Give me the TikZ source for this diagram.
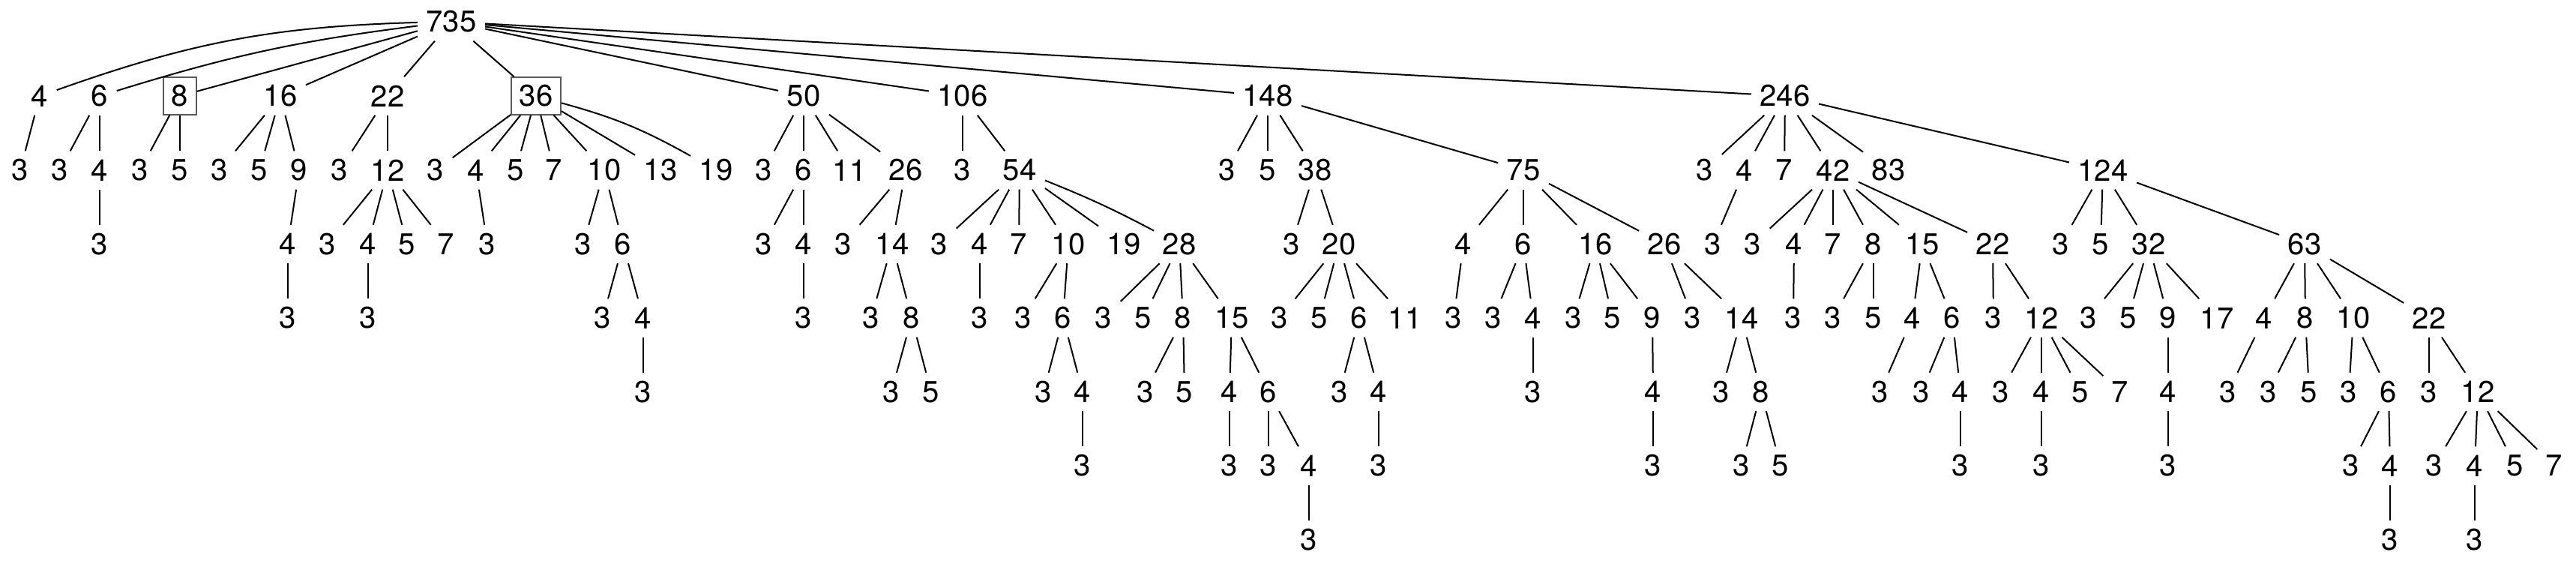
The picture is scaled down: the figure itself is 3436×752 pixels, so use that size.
\documentclass[tikz,border=0pt]{standalone}
\usepackage{fontspec}
\setmainfont{TeX Gyre Heros}
\begin{document}
\begin{tikzpicture}[x=0.01cm,y=-0.01cm,
  n/.style={rectangle,inner xsep=3.1pt,inner ysep=0pt,minimum height=0.5cm,font=\fontsize{11.4}{13}\selectfont},
  boxed/.style={n,draw=black!65,line width=0.4pt},
  e/.style={line width=0.57pt,black}]
\useasboundingbox (0,0) rectangle (3436,752);
% level 0
\node[n] (r) at (602,29) {735};
% level 1
\node[n] (a) at (53,128) {4};
\node[n] (b) at (133,128) {6};
\node[boxed] (c) at (240,128) {8};
\node[n] (d) at (374,128) {16};
\node[n] (e) at (517,128) {22};
\node[boxed] (f) at (715,128) {36};
\node[n] (g) at (1072,128) {50};
\node[n] (h) at (1284,128) {106};
\node[n] (i) at (1691,128) {148};
\node[n] (j) at (2381,128) {246};
% subtree 4
\node[n] (a1) at (27,227) {3};
% subtree 6
\node[n] (b1) at (80,227) {3};
\node[n] (b2) at (133,227) {4};
\node[n] (b21) at (133,325.5) {3};
% subtree 8
\node[n] (c1) at (187,227) {3};
\node[n] (c2) at (240,227) {5};
% subtree 16
\node[n] (d1) at (293,227) {3};
\node[n] (d2) at (346,227) {5};
\node[n] (d3) at (399,227) {9};
\node[n] (d31) at (384,325.5) {4};
\node[n] (d311) at (384,424) {3};
% subtree 22
\node[n] (e1) at (453,227) {3};
\node[n] (e2) at (517,227) {12};
\node[n] (e21) at (437,325.5) {3};
\node[n] (e22) at (491,325.5) {4};
\node[n] (e23) at (543,325.5) {5};
\node[n] (e24) at (595,325.5) {7};
\node[n] (e221) at (491,424) {3};
% subtree 36
\node[n] (f1) at (581,227) {3};
\node[n] (f2) at (635,227) {4};
\node[n] (f3) at (688,227) {5};
\node[n] (f4) at (739,227) {7};
\node[n] (f5) at (806,227) {10};
\node[n] (f6) at (881,227) {13};
\node[n] (f7) at (955,227) {19};
\node[n] (f21) at (650,325.5) {3};
\node[n] (f51) at (778,325.5) {3};
\node[n] (f52) at (831,325.5) {6};
\node[n] (f521) at (804,424) {3};
\node[n] (f522) at (858,424) {4};
\node[n] (f5221) at (858,522.5) {3};
% subtree 50
\node[n] (g1) at (1019,227) {3};
\node[n] (g2) at (1072,227) {6};
\node[n] (g3) at (1133,227) {11};
\node[n] (g4) at (1208,227) {26};
\node[n] (g21) at (1019,325.5) {3};
\node[n] (g22) at (1072,325.5) {4};
\node[n] (g221) at (1072,424) {3};
\node[n] (g41) at (1125,325.5) {3};
\node[n] (g42) at (1190,325.5) {14};
\node[n] (g421) at (1162,424) {3};
\node[n] (g422) at (1216,424) {8};
\node[n] (g4221) at (1189,522.5) {3};
\node[n] (g4222) at (1242,522.5) {5};
% subtree 106
\node[n] (h1) at (1284,227) {3};
\node[n] (h2) at (1360,227) {54};
\node[n] (h21) at (1253,325.5) {3};
\node[n] (h22) at (1307,325.5) {4};
\node[n] (h23) at (1359,325.5) {7};
\node[n] (h24) at (1425,325.5) {10};
\node[n] (h25) at (1499,325.5) {19};
\node[n] (h26) at (1573,325.5) {28};
\node[n] (h221) at (1307,424) {3};
\node[n] (h241) at (1365,424) {3};
\node[n] (h242) at (1418,424) {6};
\node[n] (h2421) at (1392,522.5) {3};
\node[n] (h2422) at (1444,522.5) {4};
\node[n] (h24221) at (1444,621) {3};
\node[n] (h261) at (1472,424) {3};
\node[n] (h262) at (1525,424) {5};
\node[n] (h263) at (1578,424) {8};
\node[n] (h264) at (1643,424) {15};
\node[n] (h2631) at (1528,522.5) {3};
\node[n] (h2632) at (1580,522.5) {5};
\node[n] (h2641) at (1640,522.5) {4};
\node[n] (h2642) at (1692,522.5) {6};
\node[n] (h26411) at (1640,621) {3};
\node[n] (h26421) at (1692,621) {3};
\node[n] (h26422) at (1746,621) {4};
\node[n] (h264221) at (1746,719.5) {3};
% subtree 148
\node[n] (i1) at (1637,227) {3};
\node[n] (i2) at (1691,227) {5};
\node[n] (i3) at (1754,227) {38};
\node[n] (i4) at (2032,227) {75};
\node[n] (i31) at (1723,325.5) {3};
\node[n] (i32) at (1786,325.5) {20};
\node[n] (i321) at (1707,424) {3};
\node[n] (i322) at (1760,424) {5};
\node[n] (i323) at (1813,424) {6};
\node[n] (i324) at (1874,424) {11};
\node[n] (i3231) at (1787,522.5) {3};
\node[n] (i3232) at (1839,522.5) {4};
\node[n] (i32321) at (1839,621) {3};
\node[n] (i41) at (1952,325.5) {4};
\node[n] (i42) at (2032,325.5) {6};
\node[n] (i43) at (2128,325.5) {16};
\node[n] (i44) at (2220,325.5) {26};
\node[n] (i411) at (1939,424) {3};
\node[n] (i421) at (1992,424) {3};
\node[n] (i422) at (2045,424) {4};
\node[n] (i4221) at (2045,522.5) {3};
\node[n] (i431) at (2099,424) {3};
\node[n] (i432) at (2151,424) {5};
\node[n] (i433) at (2204,424) {9};
\node[n] (i4331) at (2205,522.5) {4};
\node[n] (i43311) at (2205,621) {3};
\node[n] (i441) at (2258,424) {3};
\node[n] (i442) at (2323,424) {14};
\node[n] (i4421) at (2296,522.5) {3};
\node[n] (i4422) at (2349,522.5) {8};
\node[n] (i44221) at (2323,621) {3};
\node[n] (i44222) at (2375,621) {5};
% subtree 246
\node[n] (j1) at (2274,227) {3};
\node[n] (j2) at (2327,227) {4};
\node[n] (j3) at (2380,227) {7};
\node[n] (j4) at (2445,227) {42};
\node[n] (j5) at (2519,227) {83};
\node[n] (j6) at (2805,227) {124};
\node[n] (j21) at (2285,325.5) {3};
\node[n] (j41) at (2338,325.5) {3};
\node[n] (j42) at (2393,325.5) {4};
\node[n] (j43) at (2445,325.5) {7};
\node[n] (j44) at (2499,325.5) {8};
\node[n] (j45) at (2564,325.5) {15};
\node[n] (j46) at (2658,325.5) {22};
\node[n] (j421) at (2392,424) {3};
\node[n] (j441) at (2445,424) {3};
\node[n] (j442) at (2499,424) {5};
\node[n] (j451) at (2551,424) {4};
\node[n] (j452) at (2604,424) {6};
\node[n] (j4511) at (2508,522.5) {3};
\node[n] (j4521) at (2563,522.5) {3};
\node[n] (j4522) at (2615,522.5) {4};
\node[n] (j45221) at (2615,621) {3};
\node[n] (j461) at (2659,424) {3};
\node[n] (j462) at (2723,424) {12};
\node[n] (j4621) at (2669,522.5) {3};
\node[n] (j4622) at (2723,522.5) {4};
\node[n] (j4623) at (2775,522.5) {5};
\node[n] (j4624) at (2828,522.5) {7};
\node[n] (j46221) at (2723,621) {3};
\node[n] (j61) at (2749,325.5) {3};
\node[n] (j62) at (2802,325.5) {5};
\node[n] (j63) at (2866,325.5) {32};
\node[n] (j64) at (3074,325.5) {63};
\node[n] (j631) at (2786,424) {3};
\node[n] (j632) at (2839,424) {5};
\node[n] (j633) at (2892,424) {9};
\node[n] (j634) at (2957,424) {17};
\node[n] (j6331) at (2892,522.5) {4};
\node[n] (j63311) at (2892,621) {3};
\node[n] (j641) at (3020,424) {4};
\node[n] (j642) at (3075,424) {8};
\node[n] (j643) at (3139,424) {10};
\node[n] (j644) at (3240,424) {22};
\node[n] (j6411) at (2972,522.5) {3};
\node[n] (j6421) at (3026,522.5) {3};
\node[n] (j6422) at (3080,522.5) {5};
\node[n] (j6431) at (3133,522.5) {3};
\node[n] (j6432) at (3186,522.5) {6};
\node[n] (j64321) at (3136,621) {3};
\node[n] (j64322) at (3188,621) {4};
\node[n] (j643221) at (3188,719.5) {3};
\node[n] (j6441) at (3240,522.5) {3};
\node[n] (j6442) at (3305,522.5) {12};
\node[n] (j64421) at (3247,621) {3};
\node[n] (j64422) at (3301,621) {4};
\node[n] (j64423) at (3355,621) {5};
\node[n] (j64424) at (3407,621) {7};
\node[n] (j644221) at (3301,719.5) {3};
% curved edges
\draw[e] (r) to[bend right=9] (a);
\draw[e] (r) to[bend right=5] (b);
\draw[e] (f) to[bend left=7] (f7);
\draw[e] (h2) to[bend left=3] (h26);
% straight edges
\foreach \p/\q in {r/c,r/d,r/e,r/f,r/g,r/h,r/i,r/j,
  a/a1,b/b1,b/b2,b2/b21,c/c1,c/c2,d/d1,d/d2,d/d3,d3/d31,d31/d311,
  e/e1,e/e2,e2/e21,e2/e22,e2/e23,e2/e24,e22/e221,
  f/f1,f/f2,f/f3,f/f4,f/f5,f/f6,f2/f21,f5/f51,f5/f52,f52/f521,f52/f522,f522/f5221,
  g/g1,g/g2,g/g3,g/g4,g2/g21,g2/g22,g22/g221,g4/g41,g4/g42,g42/g421,g42/g422,g422/g4221,g422/g4222,
  h/h1,h/h2,h2/h21,h2/h22,h2/h23,h2/h24,h2/h25,h22/h221,h24/h241,h24/h242,h242/h2421,h242/h2422,h2422/h24221,
  h26/h261,h26/h262,h26/h263,h26/h264,h263/h2631,h263/h2632,h264/h2641,h264/h2642,h2641/h26411,h2642/h26421,h2642/h26422,h26422/h264221,
  i/i1,i/i2,i/i3,i/i4,i3/i31,i3/i32,i32/i321,i32/i322,i32/i323,i32/i324,i323/i3231,i323/i3232,i3232/i32321,
  i4/i41,i4/i42,i4/i43,i4/i44,i41/i411,i42/i421,i42/i422,i422/i4221,i43/i431,i43/i432,i43/i433,i433/i4331,i4331/i43311,
  i44/i441,i44/i442,i442/i4421,i442/i4422,i4422/i44221,i4422/i44222,
  j/j1,j/j2,j/j3,j/j4,j/j5,j/j6,j2/j21,j4/j41,j4/j42,j4/j43,j4/j44,j4/j45,j4/j46,j42/j421,j44/j441,j44/j442,
  j45/j451,j45/j452,j451/j4511,j452/j4521,j452/j4522,j4522/j45221,j46/j461,j46/j462,j462/j4621,j462/j4622,j462/j4623,j462/j4624,j4622/j46221,
  j6/j61,j6/j62,j6/j63,j6/j64,j63/j631,j63/j632,j63/j633,j63/j634,j633/j6331,j6331/j63311,
  j64/j641,j64/j642,j64/j643,j64/j644,j641/j6411,j642/j6421,j642/j6422,j643/j6431,j643/j6432,j6432/j64321,j6432/j64322,j64322/j643221,
  j644/j6441,j644/j6442,j6442/j64421,j6442/j64422,j6442/j64423,j6442/j64424,j64422/j644221}
  \draw[e] (\p) -- (\q);
\end{tikzpicture}
\end{document}
